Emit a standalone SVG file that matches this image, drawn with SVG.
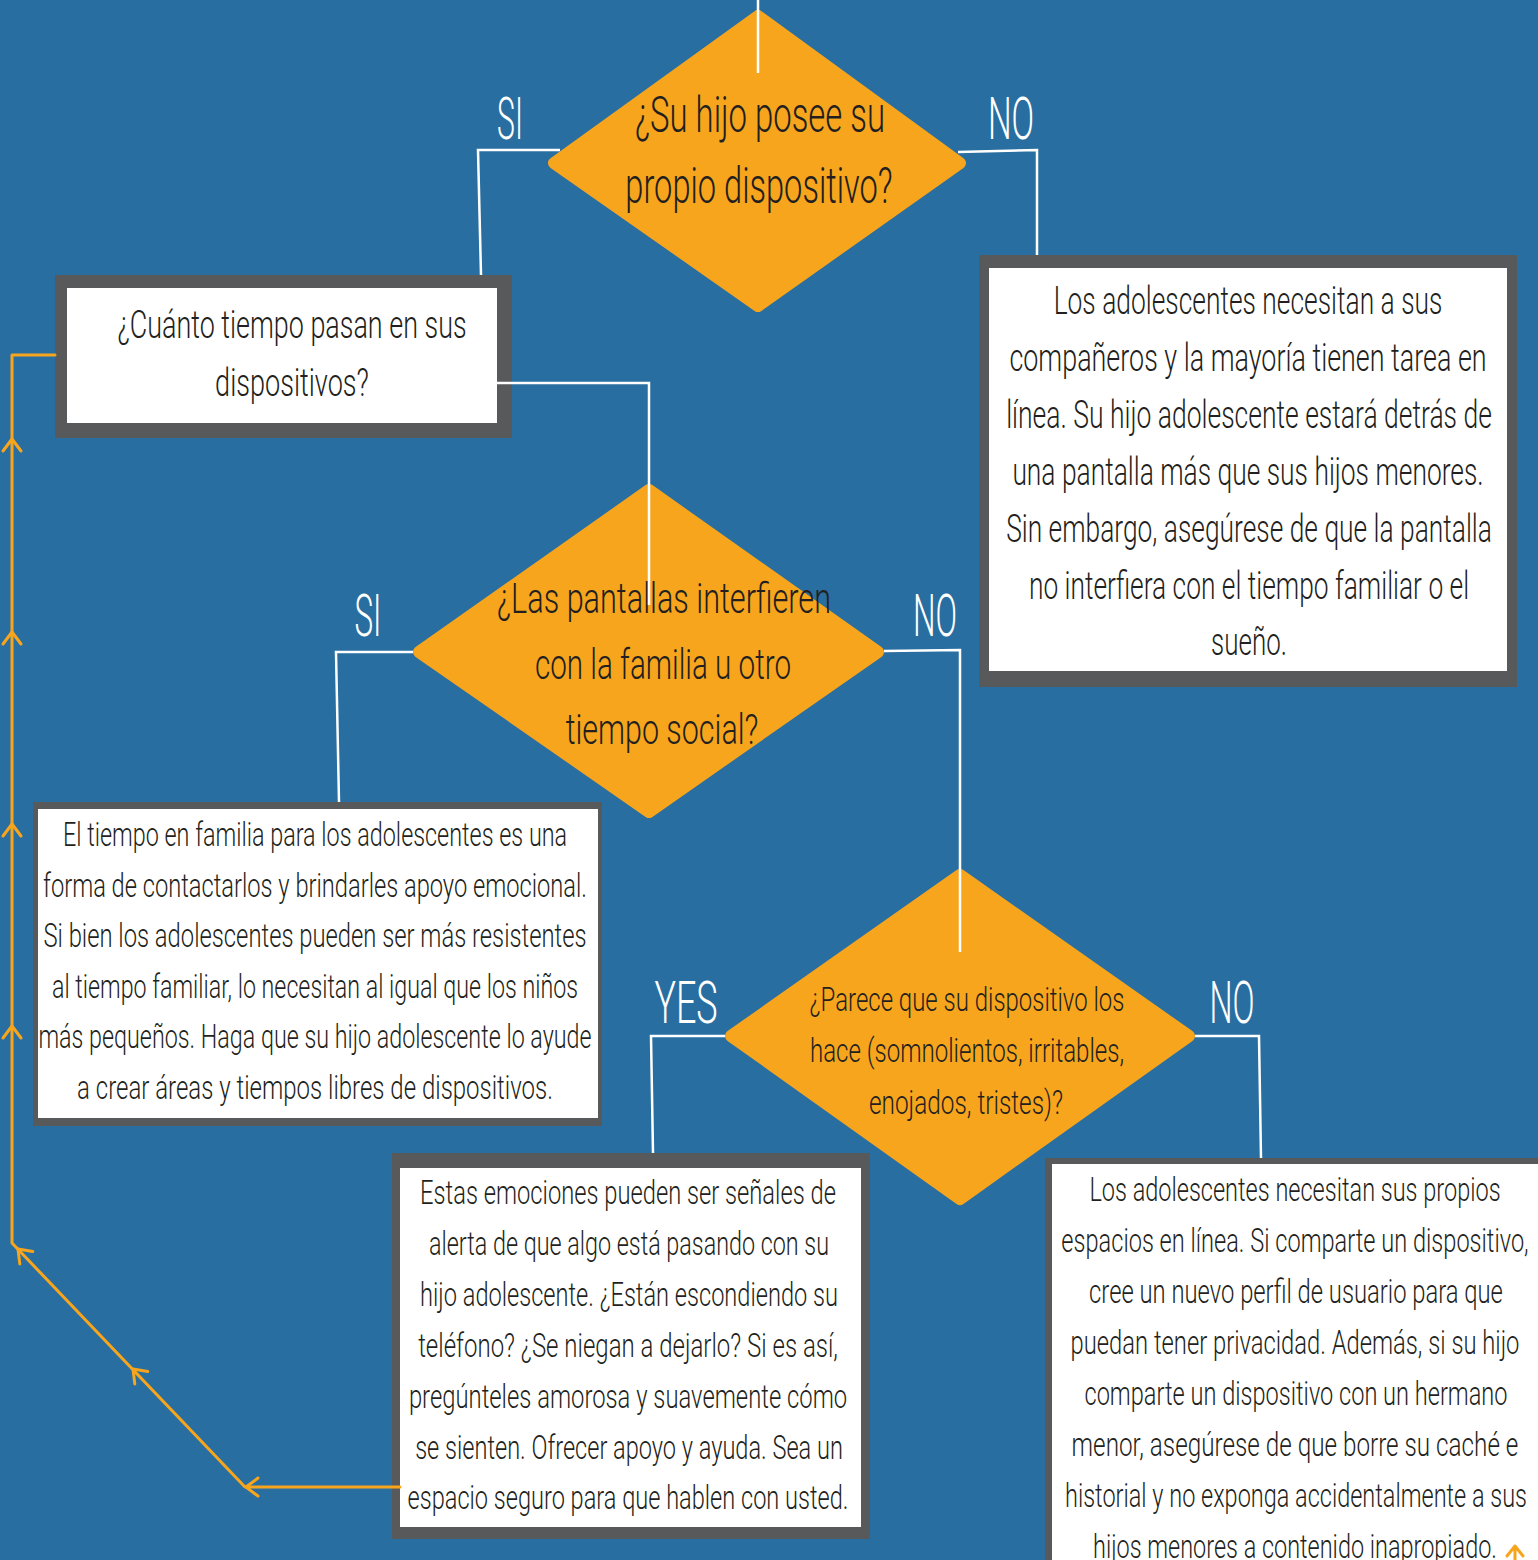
<svg xmlns="http://www.w3.org/2000/svg" xmlns:xlink="http://www.w3.org/1999/xlink" width="1538" height="1560" viewBox="0 0 1538 1560">
<style>
.bg{fill:#296EA0}
.dia{fill:#F7A51D;stroke:#F7A51D;stroke-width:12;stroke-linejoin:round}
.outer{fill:#58595B}
.inner{fill:#FFFFFF}
.t{font-family:"Roboto","Liberation Sans",sans-serif;font-weight:300;fill:#231F20;text-anchor:middle}
.lbl{font-family:"Roboto","Liberation Sans",sans-serif;font-weight:300;fill:#FFFFFF;text-anchor:middle;font-size:60px}
.w{fill:none;stroke:#FFFFFF;stroke-width:2.5}
.o{fill:none;stroke:#F7A51D;stroke-width:3;stroke-linejoin:round;stroke-linecap:round}
</style>
<defs>
<path id="chev" d="M-12,-9 L0,0 L-12,9" fill="none" stroke="#F7A51D" stroke-width="3" stroke-linecap="round" stroke-linejoin="round"/>
</defs>
<rect class="bg" x="0" y="0" width="1538" height="1560"/>

<g id="q1">
<polygon class="dia" points="758,16 960,163 758,306 554,163"/>
<text class="t" font-size="50" transform="translate(760,0) scale(0.66,1)" x="0" y="132" textLength="379" lengthAdjust="spacingAndGlyphs">¿Su hijo posee su</text>
<text class="t" font-size="50" transform="translate(759,0) scale(0.66,1)" x="0" y="203" textLength="405" lengthAdjust="spacingAndGlyphs">propio dispositivo?</text>
</g>

<g id="q1-si-label"><text class="lbl" transform="translate(510,0) scale(0.55,1)" x="0" y="139" textLength="47" lengthAdjust="spacingAndGlyphs">SI</text></g>
<g id="q1-no-label"><text class="lbl" transform="translate(1011,0) scale(0.55,1)" x="0" y="139" textLength="84" lengthAdjust="spacingAndGlyphs">NO</text></g>

<g id="box-tiempo">
<rect class="outer" x="55" y="275" width="457" height="163"/>
<rect class="inner" x="67" y="288" width="430" height="135"/>
<text class="t" font-size="39" transform="translate(292,0) scale(0.66,1)" x="0" y="338" textLength="529" lengthAdjust="spacingAndGlyphs">¿Cuánto tiempo pasan en sus</text>
<text class="t" font-size="39" transform="translate(292,0) scale(0.66,1)" x="0" y="396" textLength="233" lengthAdjust="spacingAndGlyphs">dispositivos?</text>
</g>

<g id="box-no-propio">
<rect class="outer" x="979" y="255" width="538" height="432"/>
<rect class="inner" x="989" y="268" width="518" height="403"/>
<text class="t" font-size="38" transform="translate(1248,0) scale(0.66,1)" x="0" y="314" textLength="589" lengthAdjust="spacingAndGlyphs">Los adolescentes necesitan a sus</text>
<text class="t" font-size="38" transform="translate(1248,0) scale(0.66,1)" x="0" y="371" textLength="723" lengthAdjust="spacingAndGlyphs">compañeros y la mayoría tienen tarea en</text>
<text class="t" font-size="38" transform="translate(1249,0) scale(0.66,1)" x="0" y="428" textLength="736" lengthAdjust="spacingAndGlyphs">línea. Su hijo adolescente estará detrás de</text>
<text class="t" font-size="38" transform="translate(1248,0) scale(0.66,1)" x="0" y="485" textLength="714" lengthAdjust="spacingAndGlyphs">una pantalla más que sus hijos menores.</text>
<text class="t" font-size="38" transform="translate(1249,0) scale(0.66,1)" x="0" y="542" textLength="736" lengthAdjust="spacingAndGlyphs">Sin embargo, asegúrese de que la pantalla</text>
<text class="t" font-size="38" transform="translate(1249,0) scale(0.66,1)" x="0" y="599" textLength="667" lengthAdjust="spacingAndGlyphs">no interfiera con el tiempo familiar o el</text>
<text class="t" font-size="38" transform="translate(1249,0) scale(0.66,1)" x="0" y="655" textLength="115" lengthAdjust="spacingAndGlyphs">sueño.</text>
</g>

<g id="q2">
<polygon class="dia" points="649,490 878,652 649,812 419,652"/>
<text class="t" font-size="43" transform="translate(664,0) scale(0.66,1)" x="0" y="613" textLength="506" lengthAdjust="spacingAndGlyphs">¿Las pantallas interfieren</text>
<text class="t" font-size="43" transform="translate(663,0) scale(0.66,1)" x="0" y="679" textLength="388" lengthAdjust="spacingAndGlyphs">con la familia u otro</text>
<text class="t" font-size="43" transform="translate(662,0) scale(0.66,1)" x="0" y="744" textLength="292" lengthAdjust="spacingAndGlyphs">tiempo social?</text>
</g>

<g id="q2-si-label"><text class="lbl" transform="translate(368,0) scale(0.55,1)" x="0" y="636" textLength="49" lengthAdjust="spacingAndGlyphs">SI</text></g>
<g id="q2-no-label"><text class="lbl" transform="translate(935,0) scale(0.55,1)" x="0" y="636" textLength="80" lengthAdjust="spacingAndGlyphs">NO</text></g>

<g id="box-familia">
<rect class="outer" x="33" y="802" width="569" height="324"/>
<rect class="inner" x="38" y="809" width="560" height="309"/>
<text class="t" font-size="34" transform="translate(315,0) scale(0.66,1)" x="0" y="846" textLength="764" lengthAdjust="spacingAndGlyphs">El tiempo en familia para los adolescentes es una</text>
<text class="t" font-size="34" transform="translate(315,0) scale(0.66,1)" x="0" y="897" textLength="824" lengthAdjust="spacingAndGlyphs">forma de contactarlos y brindarles apoyo emocional.</text>
<text class="t" font-size="34" transform="translate(315,0) scale(0.66,1)" x="0" y="947" textLength="823" lengthAdjust="spacingAndGlyphs">Si bien los adolescentes pueden ser más resistentes</text>
<text class="t" font-size="34" transform="translate(315,0) scale(0.66,1)" x="0" y="998" textLength="797" lengthAdjust="spacingAndGlyphs">al tiempo familiar, lo necesitan al igual que los niños</text>
<text class="t" font-size="34" transform="translate(315,0) scale(0.66,1)" x="0" y="1048" textLength="838" lengthAdjust="spacingAndGlyphs">más pequeños. Haga que su hijo adolescente lo ayude</text>
<text class="t" font-size="34" transform="translate(315,0) scale(0.66,1)" x="0" y="1099" textLength="721" lengthAdjust="spacingAndGlyphs">a crear áreas y tiempos libres de dispositivos.</text>
</g>

<g id="q3">
<polygon class="dia" points="960,875 1189,1036 960,1199 731,1036"/>
<text class="t" font-size="34" transform="translate(967,0) scale(0.66,1)" x="0" y="1011" textLength="477" lengthAdjust="spacingAndGlyphs">¿Parece que su dispositivo los</text>
<text class="t" font-size="34" transform="translate(967,0) scale(0.66,1)" x="0" y="1062" textLength="476" lengthAdjust="spacingAndGlyphs">hace (somnolientos, irritables,</text>
<text class="t" font-size="34" transform="translate(966,0) scale(0.66,1)" x="0" y="1114" textLength="294" lengthAdjust="spacingAndGlyphs">enojados, tristes)?</text>
</g>

<g id="q3-yes-label"><text class="lbl" transform="translate(686,0) scale(0.55,1)" x="0" y="1023" textLength="115" lengthAdjust="spacingAndGlyphs">YES</text></g>
<g id="q3-no-label"><text class="lbl" transform="translate(1232,0) scale(0.55,1)" x="0" y="1023" textLength="82" lengthAdjust="spacingAndGlyphs">NO</text></g>

<g id="box-emociones">
<rect class="outer" x="392" y="1153" width="478" height="386"/>
<rect class="inner" x="400" y="1168" width="461" height="359"/>
<text class="t" font-size="34" transform="translate(628,0) scale(0.66,1)" x="0" y="1204" textLength="630" lengthAdjust="spacingAndGlyphs">Estas emociones pueden ser señales de</text>
<text class="t" font-size="34" transform="translate(629,0) scale(0.66,1)" x="0" y="1255" textLength="606" lengthAdjust="spacingAndGlyphs">alerta de que algo está pasando con su</text>
<text class="t" font-size="34" transform="translate(629,0) scale(0.66,1)" x="0" y="1306" textLength="633" lengthAdjust="spacingAndGlyphs">hijo adolescente. ¿Están escondiendo su</text>
<text class="t" font-size="34" transform="translate(628,0) scale(0.66,1)" x="0" y="1357" textLength="636" lengthAdjust="spacingAndGlyphs">teléfono? ¿Se niegan a dejarlo? Si es así,</text>
<text class="t" font-size="34" transform="translate(628,0) scale(0.66,1)" x="0" y="1408" textLength="664" lengthAdjust="spacingAndGlyphs">pregúnteles amorosa y suavemente cómo</text>
<text class="t" font-size="34" transform="translate(629,0) scale(0.66,1)" x="0" y="1459" textLength="648" lengthAdjust="spacingAndGlyphs">se sienten. Ofrecer apoyo y ayuda. Sea un</text>
<text class="t" font-size="34" transform="translate(628,0) scale(0.66,1)" x="0" y="1509" textLength="668" lengthAdjust="spacingAndGlyphs">espacio seguro para que hablen con usted.</text>
</g>

<g id="box-espacios">
<rect class="outer" x="1045" y="1158" width="500" height="410"/>
<rect class="inner" x="1052" y="1164" width="490" height="400"/>
<text class="t" font-size="34" transform="translate(1295,0) scale(0.66,1)" x="0" y="1201" textLength="623" lengthAdjust="spacingAndGlyphs">Los adolescentes necesitan sus propios</text>
<text class="t" font-size="34" transform="translate(1295,0) scale(0.66,1)" x="0" y="1252" textLength="708" lengthAdjust="spacingAndGlyphs">espacios en línea. Si comparte un dispositivo,</text>
<text class="t" font-size="34" transform="translate(1296,0) scale(0.66,1)" x="0" y="1303" textLength="627" lengthAdjust="spacingAndGlyphs">cree un nuevo perfil de usuario para que</text>
<text class="t" font-size="34" transform="translate(1295,0) scale(0.66,1)" x="0" y="1354" textLength="680" lengthAdjust="spacingAndGlyphs">puedan tener privacidad. Además, si su hijo</text>
<text class="t" font-size="34" transform="translate(1296,0) scale(0.66,1)" x="0" y="1405" textLength="641" lengthAdjust="spacingAndGlyphs">comparte un dispositivo con un hermano</text>
<text class="t" font-size="34" transform="translate(1295,0) scale(0.66,1)" x="0" y="1456" textLength="677" lengthAdjust="spacingAndGlyphs">menor, asegúrese de que borre su caché e</text>
<text class="t" font-size="34" transform="translate(1296,0) scale(0.66,1)" x="0" y="1507" textLength="700" lengthAdjust="spacingAndGlyphs">historial y no exponga accidentalmente a sus</text>
<text class="t" font-size="34" transform="translate(1295,0) scale(0.66,1)" x="0" y="1558" textLength="612" lengthAdjust="spacingAndGlyphs">hijos menores a contenido inapropiado.</text>
</g>

<g id="connectors">
<line class="w" x1="758" y1="0" x2="758" y2="73"/>
<polyline class="w" points="560,150 478,150 481,275"/>
<polyline class="w" points="958,152 1037,150 1037,255"/>
<polyline class="w" points="497,383 649,383 649,605"/>
<polyline class="w" points="413,652 336,652 339,802"/>
<polyline class="w" points="884,651 960,650 960,952"/>
<polyline class="w" points="725,1036 651,1036 653,1153"/>
<polyline class="w" points="1195,1036 1259,1036 1261,1158"/>
<polyline class="o" points="400,1487 245,1487 12,1243 12,355 55,355"/>
<use xlink:href="#chev" transform="translate(246,1487) rotate(180)"/>
<use xlink:href="#chev" transform="translate(133,1369) rotate(-133.7)"/>
<use xlink:href="#chev" transform="translate(18,1249) rotate(-133.7)"/>
<use xlink:href="#chev" transform="translate(12,1026) rotate(-90)"/>
<use xlink:href="#chev" transform="translate(12,824) rotate(-90)"/>
<use xlink:href="#chev" transform="translate(12,632) rotate(-90)"/>
<use xlink:href="#chev" transform="translate(12,439) rotate(-90)"/>
<path class="o" d="M1507,1556 L1515,1546 L1523,1556 M1515,1546 L1515,1560"/>
</g>
</svg>
